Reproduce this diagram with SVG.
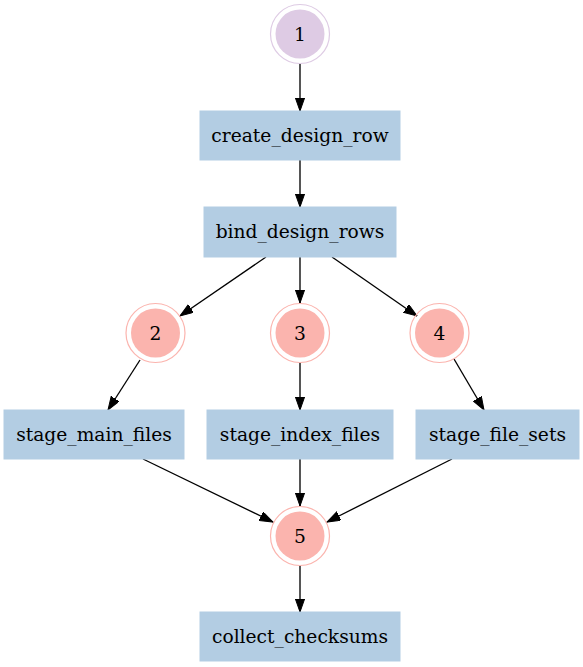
<svg xmlns="http://www.w3.org/2000/svg" width="583" height="667" viewBox="0 0 583 667">
<defs>
<marker id="ah" markerUnits="userSpaceOnUse" markerWidth="14" markerHeight="10" refX="13.3" refY="4.7" orient="auto">
<path d="M0,0 L13.3,4.7 L0,9.4 z" fill="#000" stroke="#000" stroke-width="1"/>
</marker>
<style>
.lbl{font-family:"DejaVu Serif","Liberation Serif",serif;font-size:18.67px;fill:#000;text-anchor:middle}
.rect{fill:#b3cde3;stroke:#b3cde3}
.red .in{fill:#fbb4ae}
.red .out{fill:none;stroke:#fbb4ae;stroke-width:1.2}
.pur .in{fill:#decbe4}
.pur .out{fill:none;stroke:#decbe4;stroke-width:1.2}
.edge{stroke:#000;stroke-width:1.33;fill:none;marker-end:url(#ah)}
</style>
</defs>
<rect width="583" height="667" fill="#fff"/>
<g id="edges">
<line class="edge" x1="300" y1="64" x2="300" y2="111"/>
<line class="edge" x1="300" y1="160" x2="300" y2="207"/>
<line class="edge" x1="266" y1="257" x2="180" y2="316"/>
<line class="edge" x1="300" y1="257" x2="300" y2="303"/>
<line class="edge" x1="332" y1="257" x2="417" y2="316"/>
<line class="edge" x1="140" y1="360" x2="108" y2="410"/>
<line class="edge" x1="300" y1="363" x2="300" y2="410"/>
<line class="edge" x1="454" y1="359" x2="484" y2="410"/>
<line class="edge" x1="143" y1="459" x2="273" y2="522"/>
<line class="edge" x1="300" y1="459" x2="300" y2="506"/>
<line class="edge" x1="452" y1="459" x2="327" y2="522"/>
<line class="edge" x1="300" y1="566" x2="300" y2="612"/>
</g>
<g id="n1" class="pur">
<circle class="out" cx="300" cy="34" r="29.5"/>
<circle class="in" cx="300" cy="34" r="24.5"/>
<text class="lbl" x="300" y="40.5">1</text>
</g>
<g id="create_design_row">
<rect class="rect" x="200" y="111" width="200" height="49"/>
<text class="lbl" x="300" y="141.5">create_design_row</text>
</g>
<g id="bind_design_rows">
<rect class="rect" x="204" y="207" width="192" height="50"/>
<text class="lbl" x="300" y="238">bind_design_rows</text>
</g>
<g id="n2" class="red">
<circle class="out" cx="155.5" cy="333" r="29.5"/>
<circle class="in" cx="155.5" cy="333" r="24.5"/>
<text class="lbl" x="155.5" y="339.5">2</text>
</g>
<g id="n3" class="red">
<circle class="out" cx="300" cy="333" r="29.5"/>
<circle class="in" cx="300" cy="333" r="24.5"/>
<text class="lbl" x="300" y="339.5">3</text>
</g>
<g id="n4" class="red">
<circle class="out" cx="439.5" cy="333" r="29.5"/>
<circle class="in" cx="439.5" cy="333" r="24.5"/>
<text class="lbl" x="439.5" y="339.5">4</text>
</g>
<g id="stage_main_files">
<rect class="rect" x="4" y="410" width="180" height="49"/>
<text class="lbl" x="94" y="440.5">stage_main_files</text>
</g>
<g id="stage_index_files">
<rect class="rect" x="207" y="410" width="186" height="49"/>
<text class="lbl" x="300" y="440.5">stage_index_files</text>
</g>
<g id="stage_file_sets">
<rect class="rect" x="416" y="410" width="163" height="49"/>
<text class="lbl" x="497.5" y="440.5">stage_file_sets</text>
</g>
<g id="n5" class="red">
<circle class="out" cx="300" cy="536" r="29.5"/>
<circle class="in" cx="300" cy="536" r="24.5"/>
<text class="lbl" x="300" y="542.5">5</text>
</g>
<g id="collect_checksums">
<rect class="rect" x="200" y="612" width="200" height="49"/>
<text class="lbl" x="300" y="642.5">collect_checksums</text>
</g>
</svg>
